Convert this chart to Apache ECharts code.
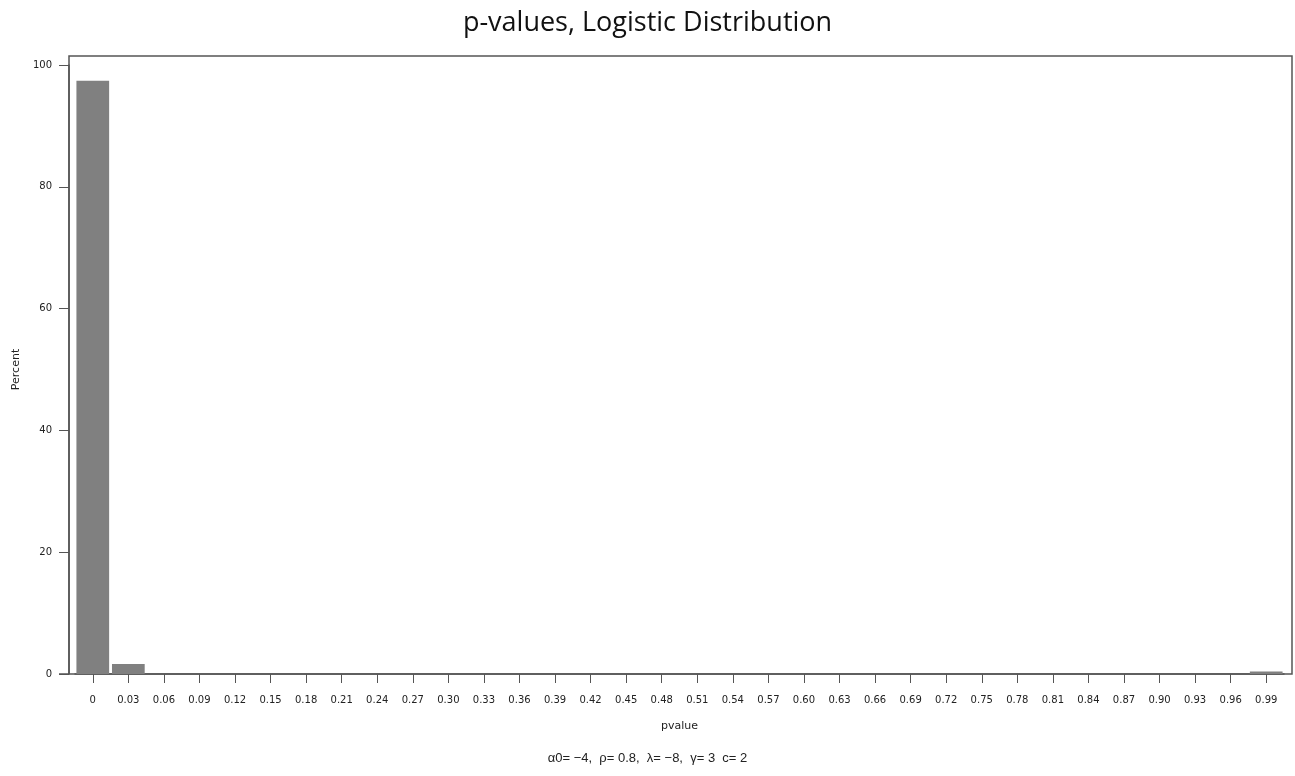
<!DOCTYPE html>
<html>
<head>
<meta charset="utf-8">
<script src="https://cdn.jsdelivr.net/npm/echarts@6/dist/echarts.min.js"></script>
<style>html,body{margin:0;padding:0;background:#fff;}#c{width:1295px;height:776px;}</style>
</head>
<body>
<div id="c"></div>
<script>
const categories = ["0","0.03","0.06","0.09","0.12","0.15","0.18","0.21","0.24","0.27","0.30","0.33","0.36","0.39","0.42","0.45","0.48","0.51","0.54","0.57","0.60","0.63","0.66","0.69","0.72","0.75","0.78","0.81","0.84","0.87","0.90","0.93","0.96","0.99"];
const percentValues = [97.4,1.65,0,0,0,0,0,0,0,0,0,0,0,0,0,0,0,0,0,0,0,0,0,0,0,0,0,0,0,0,0,0,0,0.4];
const yTicks = [0,20,40,60,80,100];
const titleText = "p-values, Logistic Distribution";
const xTitle = "pvalue";
const yTitle = "Percent";
const footnote = "α0= −4,  ρ= 0.8,  λ= −8,  γ= 3  c= 2";

const chart = echarts.init(document.getElementById('c'), null, {renderer:'canvas'});
const axisColor = '#555';
chart.setOption({
  backgroundColor:'#fff',
  animation:false,
  title:[
    {text:titleText,left:'center',top:5,textStyle:{fontFamily:'Open Sans',fontSize:27,fontWeight:500,color:'#111'}},
    {text:footnote,left:'center',top:747,textStyle:{fontFamily:'Liberation Sans',fontSize:13,fontWeight:'normal',color:'#222'}}
  ],
  graphic:[
    {type:'line',shape:{x1:59,y1:674,x2:69,y2:674},style:{stroke:axisColor,lineWidth:1.5},silent:true}
  ],
  grid:[
    {left:75,right:11,top:65,bottom:102,show:false,containLabel:false,outerBoundsMode:'none'},
    {left:69,right:3,top:56,bottom:102,show:true,borderColor:axisColor,borderWidth:1.5,backgroundColor:'transparent',containLabel:false,outerBoundsMode:'none'}
  ],
  xAxis:[
    {type:'category',gridIndex:0,data:categories,
     axisLine:{show:true,lineStyle:{color:axisColor,width:1.5}},
     axisTick:{show:true,alignWithLabel:true,length:9,lineStyle:{color:axisColor}},
     axisLabel:{interval:0,margin:21,fontFamily:'DejaVu Sans',fontSize:10,color:'#222'},
     name:xTitle,nameLocation:'middle',nameGap:47,nameTextStyle:{fontFamily:'DejaVu Sans',fontSize:11,color:'#222'}},
    {type:'value',gridIndex:1,show:false}
  ],
  yAxis:[
    {type:'value',gridIndex:0,min:yTicks[0],max:yTicks[yTicks.length-1],interval:20,offset:6,
     splitLine:{show:false},
     axisLine:{show:true,lineStyle:{color:axisColor,width:1.5}},
     axisTick:{show:true,length:10,lineStyle:{color:axisColor}},
     axisLabel:{margin:17,fontFamily:'DejaVu Sans',fontSize:10,color:'#222'},
     name:yTitle,nameLocation:'middle',nameGap:47,nameRotate:90,nameTextStyle:{fontFamily:'DejaVu Sans',fontSize:11,color:'#222'}},
    {type:'value',gridIndex:1,show:false}
  ],
  series:[
    {type:'bar',xAxisIndex:0,yAxisIndex:0,data:percentValues,barWidth:'92%',
     itemStyle:{color:'#808080'}}
  ]
});
</script>
</body>
</html>
